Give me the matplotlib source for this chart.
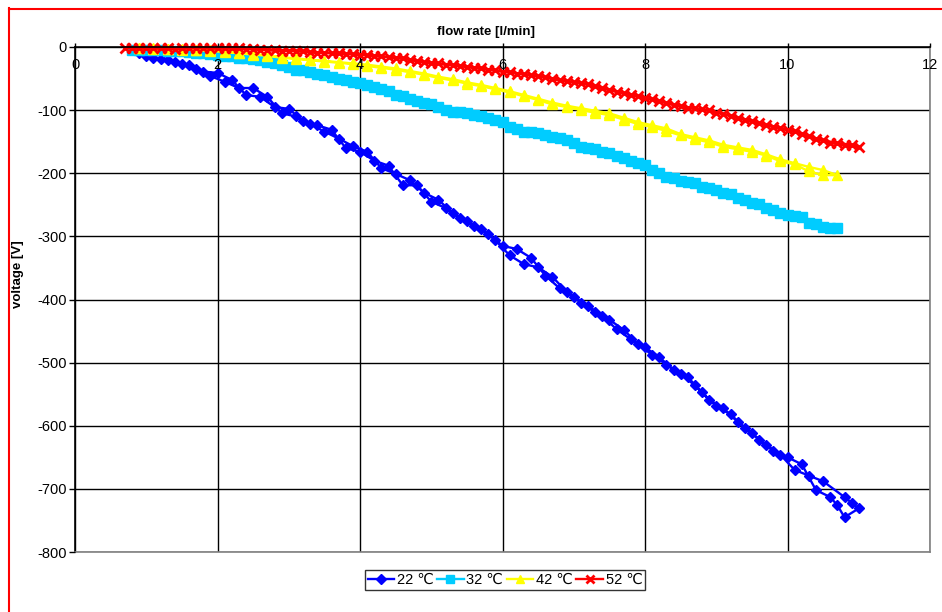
import matplotlib
matplotlib.use('Agg')
import matplotlib.pyplot as plt
from matplotlib.lines import Line2D

plt.rcParams['font.family'] = ['Liberation Sans', 'DejaVu Sans']
plt.rcParams['axes.unicode_minus'] = False

# ---- data (flow rate l/min, voltage V) ----
# each series: measured going up in flow, then coming back down
labels = ['22 \u2103', '32 \u2103', '42 \u2103', '52 \u2103']

blue_up_x = [0.9, 1.1, 1.3, 1.5, 1.7, 1.9, 2.1, 2.3, 2.5, 2.7, 2.9, 3.1, 3.3, 3.5, 3.7, 3.9,
             4.1, 4.3, 4.5, 4.7, 4.9, 5.1, 5.3, 5.5, 5.7, 5.9, 6.1, 6.3, 6.5, 6.7, 6.9, 7.1,
             7.3, 7.5, 7.7, 7.9, 8.1, 8.3, 8.5, 8.7, 8.9, 9.1, 9.3, 9.5, 9.7, 9.9, 10.1, 10.3,
             10.5, 10.8, 10.9, 11.0]
blue_up_y = [-9, -18, -21, -27, -35, -46, -55, -65, -65, -79, -105, -110, -122, -134, -145, -157,
             -166, -192, -201, -211, -231, -242, -263, -276, -288, -306, -330, -344, -349, -364, -388, -405,
             -420, -432, -448, -470, -488, -503, -518, -536, -559, -572, -594, -612, -630, -646, -670, -679,
             -688, -713, -722, -731]
blue_dn_x = [10.8, 10.7, 10.6, 10.4, 10.2, 10.0, 9.8, 9.6, 9.4, 9.2, 9.0, 8.8, 8.6, 8.4, 8.2, 8.0,
             7.8, 7.6, 7.4, 7.2, 7.0, 6.8, 6.6, 6.4, 6.2, 6.0, 5.8, 5.6, 5.4, 5.2, 5.0, 4.8,
             4.6, 4.4, 4.2, 4.0, 3.8, 3.6, 3.4, 3.2, 3.0, 2.8, 2.6, 2.4, 2.2, 2.0, 1.8, 1.6,
             1.4, 1.2, 1.0]
blue_dn_y = [-745, -726, -713, -702, -661, -650, -640, -622, -603, -582, -569, -547, -523, -512, -491, -476,
             -463, -447, -426, -410, -396, -382, -362, -334, -320, -315, -296, -284, -271, -255, -245, -219,
             -219, -188, -180, -166, -160, -131, -124, -117, -98, -95, -79, -76, -52, -41, -39, -29,
             -24, -19, -14]

cyan_up_x = [0.8, 1.0, 1.2, 1.4, 1.6, 1.8, 2.0, 2.2, 2.4, 2.6, 2.8, 3.0, 3.2, 3.4, 3.6, 3.8,
             4.0, 4.2, 4.4, 4.6, 4.8, 5.0, 5.2, 5.4, 5.6, 5.8, 6.0, 6.2, 6.4, 6.6, 6.8, 7.0,
             7.2, 7.4, 7.6, 7.8, 8.0, 8.2, 8.4, 8.6, 8.8, 9.0, 9.2, 9.4, 9.6, 9.8, 10.0, 10.2,
             10.4, 10.6, 10.7]
cyan_up_y = [-4, -5, -5, -6, -8, -10, -12, -15, -17, -21, -26, -31, -37, -42, -48, -52,
             -57, -63, -70, -78, -85, -90, -100, -103, -107, -113, -119, -130, -134, -139, -144, -152,
             -160, -166, -172, -180, -187, -200, -208, -214, -221, -227, -233, -242, -248, -258, -266, -270,
             -281, -286, -287]
cyan_dn_x = [10.5, 10.3, 10.1, 9.9, 9.7, 9.5, 9.3, 9.1, 8.9, 8.7, 8.5, 8.3, 8.1, 7.9, 7.7, 7.5,
             7.3, 7.1, 6.9, 6.7, 6.5, 6.3, 6.1, 5.9, 5.7, 5.5, 5.3, 5.1, 4.9, 4.7, 4.5, 4.3,
             4.1, 3.9, 3.7, 3.5, 3.3, 3.1, 2.9, 2.7, 2.5, 2.3, 2.1, 1.9, 1.7, 1.5, 1.3, 1.1, 0.9]
cyan_dn_y = [-285, -279, -268, -263, -255, -247, -239, -231, -224, -216, -212, -206, -195, -184, -176, -168,
             -162, -158, -148, -142, -137, -134, -126, -116, -110, -105, -103, -95, -89, -82, -76, -67,
             -60, -55, -50, -45, -40, -36, -28, -24, -19, -17, -14, -11, -9, -7, -6, -5, -4]

yellow_up_x = [0.9, 1.1, 1.3, 1.5, 1.7, 1.9, 2.1, 2.3, 2.5, 2.7, 2.9, 3.1, 3.3, 3.5, 3.7, 3.9,
               4.1, 4.3, 4.5, 4.7, 4.9, 5.1, 5.3, 5.5, 5.7, 5.9, 6.1, 6.3, 6.5, 6.7, 6.9, 7.1,
               7.3, 7.5, 7.7, 7.9, 8.1, 8.3, 8.5, 8.7, 8.9, 9.1, 9.3, 9.5, 9.7, 9.9, 10.1, 10.3,
               10.5, 10.7]
yellow_up_y = [-2, -2, -3, -3, -4, -5, -7, -9, -11, -13, -16, -18, -20, -22, -24, -26,
               -28, -31, -34, -38, -42, -47, -51, -56, -60, -65, -70, -76, -82, -88, -93, -97,
               -101, -105, -112, -119, -124, -129, -138, -143, -148, -155, -159, -163, -170, -178, -184, -190,
               -195, -203]
yellow_dn_x = [10.5, 10.3, 10.1, 9.9, 9.7, 9.5, 9.3, 9.1, 8.9, 8.7, 8.5, 8.3, 8.1, 7.9, 7.7, 7.5,
               7.3, 7.1, 6.9, 6.7, 6.5, 6.3, 6.1, 5.9, 5.7, 5.5, 5.3, 5.1, 4.9, 4.7, 4.5, 4.3,
               4.1, 3.9, 3.7, 3.5, 3.3, 3.1, 2.9, 2.7, 2.5, 2.3, 2.1, 1.9, 1.7, 1.5, 1.3, 1.1, 0.9]
yellow_dn_y = [-203, -197, -186, -181, -172, -166, -162, -158, -151, -146, -140, -133, -127, -122, -115, -108,
               -104, -100, -95, -91, -84, -78, -72, -67, -62, -58, -53, -49, -44, -40, -36, -33,
               -30, -27, -25, -23, -21, -19, -17, -14, -12, -10, -8, -6, -5, -4, -3, -3, -2]

red_up_x = [0.7, 0.9, 1.1, 1.3, 1.5, 1.7, 1.9, 2.1, 2.3, 2.5, 2.7, 2.9, 3.1, 3.3, 3.5, 3.7,
            3.9, 4.1, 4.3, 4.5, 4.7, 4.9, 5.1, 5.3, 5.5, 5.7, 5.9, 6.1, 6.3, 6.5, 6.7, 6.9,
            7.1, 7.3, 7.5, 7.7, 7.9, 8.1, 8.3, 8.5, 8.7, 8.9, 9.1, 9.3, 9.5, 9.7, 9.9, 10.1,
            10.3, 10.5, 10.7, 10.9, 11.0]
red_up_y = [-2, -2, -2, -2, -2, -1, -2, -2, -2, -3, -5, -6, -6, -8, -9, -10,
            -11, -13, -15, -17, -20, -24, -26, -28, -31, -34, -37, -40, -43, -46, -50, -54,
            -57, -62, -68, -73, -78, -83, -88, -94, -97, -100, -106, -112, -117, -123, -128, -133,
            -141, -148, -152, -155, -158]
red_dn_x = [10.8, 10.6, 10.4, 10.2, 10.0, 9.8, 9.6, 9.4, 9.2, 9.0, 8.8, 8.6, 8.4, 8.2, 8.0, 7.8,
            7.6, 7.4, 7.2, 7.0, 6.8, 6.6, 6.4, 6.2, 6.0, 5.8, 5.6, 5.4, 5.2, 5.0, 4.8, 4.6,
            4.4, 4.2, 4.0, 3.8, 3.6, 3.4, 3.2, 3.0, 2.8, 2.6, 2.4, 2.2, 2.0, 1.8, 1.6, 1.4,
            1.2, 1.0, 0.8]
red_dn_y = [-156, -152, -146, -138, -132, -127, -121, -116, -109, -104, -99, -97, -92, -86, -81, -76,
            -71, -65, -59, -56, -53, -48, -45, -42, -39, -36, -33, -30, -28, -26, -22, -18,
            -16, -14, -12, -11, -10, -9, -7, -6, -5, -4, -3, -2, -2, -2, -2, -3,
            -2, -2, -2]

x_ticks = [0, 2, 4, 6, 8, 10, 12]
y_ticks = [0, -100, -200, -300, -400, -500, -600, -700, -800]

# ---- figure ----
fig = plt.figure(figsize=(9.42, 6.12), dpi=100)
ax = fig.add_axes([75/942, 1 - 552/612, (930 - 75)/942, (552 - 47)/612])

# gridlines drawn by hand so the tick labels can sit on top of the data
for yv in y_ticks:
    ax.axhline(yv, color='black', lw=1.0, zorder=0.5)
for xv in x_ticks:
    ax.axvline(xv, color='black', lw=1.0, zorder=0.5)

series = [
    (blue_up_x + blue_dn_x, blue_up_y + blue_dn_y, '#0000ff', 'D', 5.5, 1),
    (cyan_up_x + cyan_dn_x, cyan_up_y + cyan_dn_y, '#00ccff', 's', 7, 1),
    (yellow_up_x + yellow_dn_x, yellow_up_y + yellow_dn_y, '#ffff00', '^', 7, 1),
    (red_up_x + red_dn_x, red_up_y + red_dn_y, '#ff0000', 'x', 6.5, 2),
]
for (xs, ys, col, mk, ms, mew), lab in zip(series, labels):
    ax.plot(xs, ys, color=col, lw=1.7, marker=mk, ms=ms, mew=mew,
            mec=col, mfc=col, label=lab, clip_on=False, zorder=2)

ax.set_xlim(0, 12)
ax.set_ylim(-800, 0)
ax.set_xticks(x_ticks)
ax.set_yticks(y_ticks)
ax.set_axisbelow(False)

ax.xaxis.tick_top()
ax.tick_params(axis='x', direction='out', length=3, width=1, pad=-21,
               labelsize=10.5, colors='black')
ax.tick_params(axis='y', direction='out', length=4, width=1, pad=2,
               labelsize=10.5)

ax.spines['left'].set_color('black')
ax.spines['top'].set_color('black')
ax.spines['right'].set_color('#808080')
ax.spines['bottom'].set_color('#808080')
for s in ax.spines.values():
    s.set_linewidth(1.2)

fig.text(486/942, 1 - 32/612, 'flow rate [l/min]', ha='center', va='center',
         fontsize=9.5, fontweight='bold')
fig.text(18/942, 1 - 274/612, 'voltage [V]', ha='center', va='center',
         rotation=90, fontsize=9.5, fontweight='bold')

leg = fig.legend(loc='center', bbox_to_anchor=(505/942, 1 - 580/612), ncol=4,
                 fontsize=10.5, frameon=True, fancybox=False, edgecolor='black',
                 handlelength=1.8, handletextpad=0.2, columnspacing=0.25,
                 borderpad=0.2, borderaxespad=0, markerscale=0.85)
leg.get_frame().set_linewidth(1.0)

# red frame round the whole chart (runs off right/bottom edge)
fig.add_artist(Line2D([8.5/942, 8.5/942], [1 - 8/612, 0], transform=fig.transFigure,
                      color='red', lw=1.5))
fig.add_artist(Line2D([8.5/942, 1], [1 - 8.5/612, 1 - 8.5/612], transform=fig.transFigure,
                      color='red', lw=1.5))

fig.savefig('out.png', dpi=100)
